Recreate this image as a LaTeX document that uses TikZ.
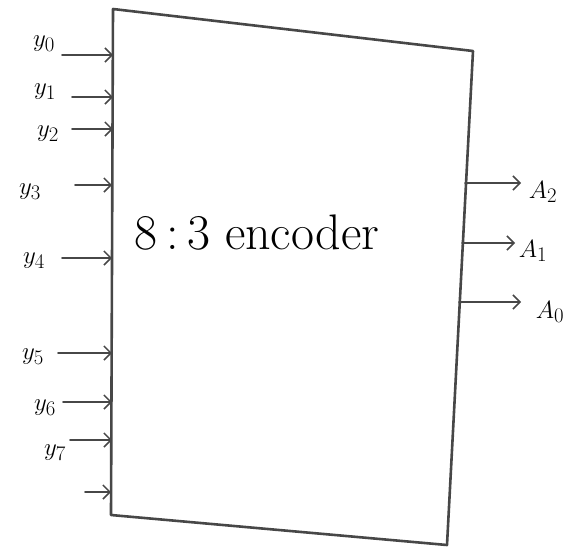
\documentclass[tikz,border=0pt]{standalone}
\usetikzlibrary{arrows.meta}
\begin{document}
\begin{tikzpicture}[x=1pt,y=-1pt,
  boxline/.style={draw=black!72, line width=2.6pt, line join=round},
  sig/.style={draw=black!72, line width=1.8pt, line cap=round, -{Straight Barb[length=7pt,width=14pt,line width=1.5pt]}},
  lbl/.style={font=\fontsize{32}{34}\selectfont, inner sep=0pt},
  title/.style={font=\fontsize{50}{54}\selectfont, inner sep=0pt}]
\useasboundingbox (0,0) rectangle (585,549);
% box corners
\coordinate (TL) at (113,9);
\coordinate (TR) at (473,51);
\coordinate (BR) at (447,545);
\coordinate (BL) at (111,515);
\draw[boxline] (TL) -- (TR) -- (BR) -- (BL) -- cycle;
\node[title] (t) at (257,233) {8\,:\,3 encoder};
% inputs
\coordinate (s0) at (62,55);  \coordinate (e0) at (113,55);
\coordinate (s1) at (72,97);  \coordinate (e1) at (113,97);
\coordinate (s2) at (72,129); \coordinate (e2) at (113,129);
\coordinate (s3) at (75,185); \coordinate (e3) at (112,185);
\coordinate (s4) at (62,258); \coordinate (e4) at (112,258);
\coordinate (s5) at (58,353); \coordinate (e5) at (112,353);
\coordinate (s6) at (63,402); \coordinate (e6) at (112,402);
\coordinate (s7) at (70,440); \coordinate (e7) at (112,440);
\coordinate (s8) at (85,492); \coordinate (e8) at (111,492);
\foreach \i in {0,...,8} {\draw[sig] (s\i) -- (e\i);}
\node[lbl] (y0) at (44,44) {$y_0$};
\node[lbl] (y1) at (45,92) {$y_1$};
\node[lbl] (y2) at (48,134) {$y_2$};
\node[lbl] (y3) at (30,192) {$y_3$};
\node[lbl] (y4) at (34,261) {$y_4$};
\node[lbl] (y5) at (33,357) {$y_5$};
\node[lbl] (y6) at (45,408) {$y_6$};
\node[lbl] (y7) at (55,453) {$y_7$};
% outputs
\coordinate (o2) at (465,183); \coordinate (p2) at (521,183);
\coordinate (o1) at (462,243); \coordinate (p1) at (515,243);
\coordinate (o0) at (459,302); \coordinate (p0) at (521,302);
\foreach \i in {0,1,2} {\draw[sig] (o\i) -- (p\i);}
\node[lbl] (A2) at (543,192) {$A_2$};
\node[lbl] (A1) at (533,251) {$A_1$};
\node[lbl] (A0) at (550,312) {$A_0$};
\end{tikzpicture}
\end{document}
